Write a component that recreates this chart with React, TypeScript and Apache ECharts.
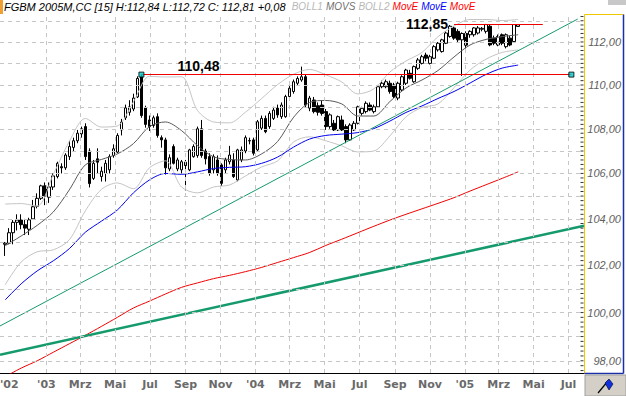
import React, { useEffect, useRef } from "react";
import * as echarts from "echarts";

// ---------------- data ----------------
const FIRST_WEEK = "2002-10-21"; // weekly candles, one per week
const OPEN = [
  102.9, 102.95, 103.4, 103.85, 103.95, 103.75, 103.55, 104.0, 104.55, 104.9,
  105.45, 104.95, 105.4, 105.86, 106.3, 106.25, 106.75, 107.16, 107.46, 107.77,
  108.1, 107.0, 105.78, 106.65, 105.86, 106.0, 106.16, 106.8, 106.95, 107.95,
  108.5, 108.75, 108.9, 109.45, 110.4, 108.95, 108.4, 108.15, 108.55, 107.6,
  107.5, 106.2, 107.2, 106.2, 106.16, 106.5, 106.16, 106.75, 106.8, 108.0,
  107.0, 106.75, 106.16, 106.6, 106.38, 106.16, 106.52, 106.6, 105.71, 106.6,
  107.0, 107.45, 107.5, 107.05, 108.03, 108.47, 108.1, 108.47, 108.94, 108.55,
  108.55, 109.47, 109.7, 110.08, 110.23, 110.38, 108.94, 109.31, 109.05, 109.08,
  108.78, 108.1, 108.25, 107.95, 108.4, 108.1, 107.5, 107.95, 108.25, 108.7,
  108.78, 109.08, 108.78, 109.0, 109.92, 109.92, 110.08, 110.0, 109.4, 109.77,
  110.08, 110.54, 110.15, 110.77, 111.0, 111.39, 111.0, 111.24, 111.63, 111.55,
  111.94, 112.26, 112.66, 112.5, 112.1, 112.4, 112.34, 112.34, 112.42, 112.6,
  112.5, 112.74, 112.18, 111.86, 112.34, 111.78, 112.18, 112.02, 112.73,
];
const HIGH = [
  103.0, 103.6, 103.95, 104.2, 104.2, 104.0, 104.05, 104.83, 105.12, 105.5,
  105.6, 105.6, 106.0, 106.52, 106.45, 106.9, 107.46, 107.6, 107.95, 108.1,
  108.25, 107.12, 106.6, 107.12, 106.3, 106.6, 106.85, 107.3, 107.8, 108.45,
  109.1, 109.3, 109.6, 110.4, 110.48, 109.05, 108.6, 108.6, 108.7, 107.7,
  107.6, 106.85, 107.3, 106.7, 106.6, 106.6, 107.1, 107.3, 108.1, 108.4,
  107.1, 106.9, 106.85, 106.8, 106.45, 106.7, 107.23, 106.9, 107.1, 107.2,
  107.7, 107.6, 107.6, 108.4, 108.6, 108.6, 108.8, 109.0, 109.1, 109.2,
  109.55, 109.95, 110.25, 110.4, 110.85, 110.5, 109.5, 109.45, 109.2, 109.3,
  108.9, 108.7, 108.4, 108.6, 108.6, 108.2, 108.25, 108.35, 109.05, 109.0,
  109.25, 109.2, 109.1, 110.0, 110.2, 110.25, 110.2, 110.1, 110.15, 110.45,
  110.75, 110.7, 110.9, 111.25, 111.4, 111.5, 111.4, 111.85, 112.0, 112.15,
  112.5, 112.8, 112.75, 112.6, 112.45, 112.5, 112.55, 112.7, 112.75, 112.7,
  112.85, 112.8, 112.3, 112.35, 112.4, 112.4, 112.3, 112.8, 112.84,
];
const LOW = [
  102.4, 102.9, 102.9, 103.5, 103.55, 103.3, 103.3, 103.96, 104.46, 104.83,
  104.6, 104.7, 105.27, 105.78, 106.0, 106.16, 106.6, 107.0, 107.35, 107.6,
  106.6, 105.38, 105.71, 106.0, 105.64, 105.64, 106.0, 106.7, 106.9, 107.7,
  108.4, 108.6, 108.8, 109.4, 108.5, 108.05, 107.9, 108.05, 107.6, 107.15,
  105.95, 106.1, 106.4, 106.1, 106.0, 105.25, 106.1, 106.7, 106.7, 106.7,
  106.4, 105.9, 106.0, 105.9, 105.45, 106.0, 106.4, 105.8, 105.65, 106.5,
  106.9, 107.3, 106.8, 107.0, 107.95, 107.8, 108.0, 108.4, 108.5, 108.45,
  108.5, 109.4, 109.6, 110.0, 110.15, 108.95, 108.8, 108.7, 108.6, 108.6,
  107.95, 108.0, 107.9, 107.9, 107.9, 107.35, 107.45, 107.9, 108.2, 108.6,
  108.7, 108.8, 108.7, 108.95, 109.85, 109.85, 109.6, 109.4, 109.3, 109.7,
  110.0, 110.25, 110.1, 110.7, 110.95, 111.1, 110.95, 111.2, 111.55, 111.5,
  111.9, 112.2, 112.1, 112.0, 110.42, 111.7, 112.2, 112.25, 112.35, 112.5,
  112.4, 111.8, 111.85, 111.8, 111.85, 111.7, 111.8, 111.95, 112.72,
];
const CLOSE = [
  102.95, 103.4, 103.85, 103.95, 103.75, 103.6, 103.96, 104.53, 104.9, 105.45,
  105.0, 105.4, 105.89, 106.45, 106.25, 106.82, 107.2, 107.46, 107.8, 108.0,
  106.75, 105.55, 106.45, 106.5, 106.1, 106.45, 106.75, 107.1, 107.7, 108.3,
  108.95, 109.0, 109.4, 110.3, 108.6, 108.2, 108.1, 108.5, 107.7, 107.5,
  106.25, 106.7, 106.45, 106.6, 106.52, 106.35, 107.05, 107.2, 108.0, 106.8,
  106.65, 106.0, 106.75, 106.0, 105.56, 106.6, 106.82, 105.86, 107.05, 107.05,
  107.6, 107.47, 106.9, 108.32, 108.47, 107.87, 108.7, 108.85, 108.63, 109.08,
  109.47, 109.85, 110.15, 110.3, 110.38, 109.08, 109.4, 108.78, 108.75, 108.7,
  108.1, 108.63, 107.95, 108.55, 107.95, 107.5, 108.17, 108.25, 109.0, 108.93,
  109.16, 108.85, 109.0, 109.92, 110.08, 110.15, 109.7, 109.47, 110.08, 110.38,
  110.69, 110.31, 110.85, 111.16, 111.31, 111.24, 111.31, 111.78, 111.94, 112.1,
  112.42, 112.74, 112.18, 112.1, 112.4, 111.85, 112.5, 112.66, 112.66, 112.64,
  112.82, 111.86, 111.94, 112.26, 111.94, 112.34, 111.86, 112.82, 112.81,
];

// indicator lines, one value every 4 weeks (starting with the first candle)
const MA_STEP_WEEKS = 4;
const BOLL_UPPER = [
  104.65, 104.67, 104.56, 105.95, 107.43, 108.47, 108.08, 108.13, 109.22, 110.4,
  110.37, 110.38, 108.83, 108.31, 108.27, 108.76, 109.38, 110.02, 110.5, 110.72,
  110.47, 110.14, 109.59, 109.82, 110.6, 111.11, 111.51, 112.25, 112.75, 113.06,
  113.06, 113.01, 113.06,
];
const BOLL_MID = [
  102.84, 103.26, 103.72, 104.3, 105.27, 106.38, 106.62, 106.87, 107.33, 108.1,
  108.31, 107.92, 107.24, 106.74, 106.62, 106.6, 106.87, 107.43, 108.53, 109.2,
  109.29, 109.13, 108.58, 108.58, 109.24, 109.86, 110.23, 110.67, 111.3, 111.86,
  112.12, 112.25, 112.34,
];
const BOLL_LOWER = [
  101.17, 102.14, 102.58, 102.66, 103.09, 104.35, 105.29, 105.58, 105.32, 106.25,
  106.56, 105.4, 105.14, 105.4, 105.49, 105.89, 106.29, 106.56, 107.41, 107.64,
  107.46, 107.23, 106.96, 107.0, 107.68, 108.54, 108.97, 109.13, 109.88, 110.69,
  111.2, 111.51, 111.63,
];
const MA_BLUE = [
  100.53, 101.21, 101.76, 102.19, 102.71, 103.42, 103.9, 104.39, 105.14, 105.71,
  106.0, 105.96, 106.07, 106.22, 106.27, 106.3, 106.45, 106.73, 107.18, 107.54,
  107.7, 107.76, 107.83, 108.01, 108.35, 108.74, 109.04, 109.38, 109.7, 110.09,
  110.49, 110.78, 110.92,
];
const MA_RED = [
  97.35, 97.7, 98.0, 98.35, 98.7, 99.05, 99.42, 99.8, 100.19, 100.48,
  100.78, 101.06, 101.25, 101.43, 101.57, 101.73, 101.91, 102.12, 102.33, 102.55,
  102.85, 103.12, 103.4, 103.68, 103.95, 104.2, 104.44, 104.68, 104.93, 105.22,
  105.5, 105.78, 106.07,
];

// trend lines [date, price]
const TREND_THIN: [string, number][] = [["2002-10-12", 99.44], ["2005-07-17", 113.08]];
const TREND_THICK: [string, number][] = [["2002-10-12", 98.25], ["2005-07-28", 103.7]];

// horizontal levels
const RES1 = 110.48;
const RES1_FROM = "2003-06-16";
const RES1_TO = "2005-07-06";
const RES2 = 112.85;
const RES2_FROM = "2004-12-13";
const RES2_TO = "2005-05-17";

// header values
const LAST_HIGH = 112.84;
const LAST_LOW = 112.72;
const LAST_CLOSE = 112.81;
const LAST_CHANGE = 0.08;
const LEGEND_WORDS = ["BOLL1", "MOVS", "BOLL2", "MovE", "MovE", "MovE"];
const LEGEND_STYLES = ["g", "d", "g", "r", "b", "r"];

// axes
const PRICE_GRID = [98, 99, 100, 101, 102, 103, 104, 105, 106, 107, 108, 109, 110, 111, 112, 113];
const PRICE_LABELS = [98, 100, 102, 104, 106, 108, 110, 112];
const MONTH_TICKS = [
  "2003-01-01", "2003-03-01", "2003-05-01", "2003-07-01", "2003-09-01", "2003-11-01",
  "2004-01-01", "2004-03-01", "2004-05-01", "2004-07-01", "2004-09-01", "2004-11-01",
  "2005-01-01", "2005-03-01", "2005-05-01", "2005-07-01",
];
const MONTH_LABELS = ["'03", "Mrz", "Mai", "Jul", "Sep", "Nov", "'04", "Mrz", "Mai", "Jul", "Sep", "Nov", "'05", "Mrz", "Mai", "Jul"];
const FIRST_LABEL = "'02";

const X_MIN = "2002-10-12";
const X_MAX = "2005-07-28";
const Y_MIN = 97.5;
const Y_MAX = 113.32;

// ---------------- helpers ----------------
function addDays(iso: string, n: number): string {
  const [y, m, d] = iso.split("-").map(Number);
  const t = new Date(Date.UTC(y, m - 1, d + n));
  return t.toISOString().slice(0, 10);
}
const fmt = (v: number) => v.toFixed(2).replace(".", ",");

const CANDLE_DATES = OPEN.map((_, i) => addDays(FIRST_WEEK, 7 * i));
const MA_DATES = BOLL_MID.map((_, j) => CANDLE_DATES[j * MA_STEP_WEEKS]);
const MINOR_TICKS: number[] = [];
for (let t = 976; t <= 1132; t += 2) MINOR_TICKS.push(t / 10);

const GRID_L = 0;
const GRID_T = 14;
const GRID_W = 584;
const GRID_H = 359;

export default function App() {
  const ref = useRef<HTMLDivElement>(null);
  useEffect(() => {
    if (!ref.current) return;
    const chart = echarts.init(ref.current, undefined, { renderer: "svg" });

    const lineSeries = (vals: number[], color: string, width: number, z: number) => ({
      type: "line",
      data: MA_DATES.map((d, j) => [d, vals[j]]),
      showSymbol: false,
      smooth: 0.3,
      silent: true,
      lineStyle: { color, width },
      z,
    });

    const axisLabelFont = {
      color: "#6a6a6a",
      fontWeight: "bold",
      fontSize: 11,
      fontFamily: "DejaVu Sans",
    };
    const levelFont = {
      color: "#000",
      fontWeight: "bold",
      fontSize: 14,
      fontFamily: "Liberation Sans",
    };

    const header =
      `{k|FGBM 2005M,CC [15] H:${fmt(LAST_HIGH)} L:${fmt(LAST_LOW)} C: ${fmt(LAST_CLOSE)} +${fmt(LAST_CHANGE)}}  ` +
      LEGEND_WORDS.map((w, i) => `{${LEGEND_STYLES[i]}|${w}}`).join("{s| }");
    const hf = 'italic 11px "Liberation Sans"';
    const lf = 'italic 10px "Liberation Sans"';

    const option: any = {
      animation: false,
      backgroundColor: "#fff",
      grid: { left: GRID_L, top: GRID_T, width: GRID_W, height: GRID_H, containLabel: false },
      xAxis: {
        type: "time",
        min: X_MIN,
        max: X_MAX,
        axisLine: { show: true, lineStyle: { color: "#000", width: 1 } },
        axisTick: { show: false },
        axisLabel: { show: false },
        splitLine: { show: false },
      },
      yAxis: {
        type: "log",
        logBase: 10,
        min: Y_MIN,
        max: Y_MAX,
        position: "right",
        axisLine: { show: false },
        axisTick: { show: false },
        axisLabel: { show: false },
        splitLine: { show: false },
      },
      series: [
        {
          type: "line",
          data: [[CANDLE_DATES[0], CLOSE[0]]],
          showSymbol: false,
          silent: true,
          lineStyle: { opacity: 0 },
          z: 1,
          markLine: {
            silent: true,
            symbol: ["none", "none"],
            animation: false,
            lineStyle: { color: "#c6c6c6", type: [4, 4], width: 1 },
            data: [
              ...PRICE_GRID.map((v) => ({
                yAxis: v,
                label: PRICE_LABELS.includes(v)
                  ? {
                      show: true,
                      position: "end",
                      formatter: fmt(v),
                      align: "right",
                      distance: 37,
                      color: "#606060",
                      fontStyle: "italic",
                      fontSize: 11,
                      fontFamily: "Liberation Sans",
                    }
                  : { show: false },
              })),
              ...MONTH_TICKS.map((d, i) => ({
                xAxis: d,
                label: { show: true, position: "start", formatter: MONTH_LABELS[i], distance: 6, ...axisLabelFont },
              })),
            ],
          },
        },
        {
          type: "candlestick",
          data: CANDLE_DATES.map((d, i) => [d, OPEN[i], CLOSE[i], LOW[i], HIGH[i]]),
          barWidth: 3,
          silent: true,
          itemStyle: { color: "#fff", color0: "#000", borderColor: "#000", borderColor0: "#000", borderWidth: 1 },
          z: 2,
        },
        lineSeries(BOLL_UPPER, "#c4c4c4", 1, 3),
        lineSeries(BOLL_LOWER, "#c4c4c4", 1, 3),
        lineSeries(BOLL_MID, "#5a5a5a", 1, 3),
        lineSeries(MA_BLUE, "#0000ee", 1, 3),
        lineSeries(MA_RED, "#ee0000", 1, 3),
        {
          type: "line",
          data: TREND_THIN,
          showSymbol: false,
          silent: true,
          lineStyle: { color: "#159a6c", width: 1 },
          z: 3,
        },
        {
          type: "line",
          data: TREND_THICK,
          showSymbol: false,
          silent: true,
          lineStyle: { color: "#159a6c", width: 2.5 },
          z: 3,
        },
        {
          type: "line",
          data: [[CANDLE_DATES[0], CLOSE[0]]],
          showSymbol: false,
          silent: true,
          lineStyle: { opacity: 0 },
          z: 4,
          markLine: {
            silent: true,
            symbol: ["none", "none"],
            animation: false,
            lineStyle: { color: "#ee0000", type: "solid", width: 1 },
            data: [
              [
                {
                  coord: [RES1_FROM, RES1],
                  label: {
                    show: true,
                    position: "insideStartTop",
                    formatter: fmt(RES1),
                    distance: [36, 2],
                    ...levelFont,
                  },
                },
                { coord: [RES1_TO, RES1] },
              ],
              [
                {
                  coord: [RES2_FROM, RES2],
                  label: {
                    show: true,
                    position: "start",
                    formatter: fmt(RES2),
                    distance: 6,
                    ...levelFont,
                  },
                },
                { coord: [RES2_TO, RES2] },
              ],
              {
                yAxis: LAST_CLOSE,
                lineStyle: { opacity: 0 },
                label: {
                  show: true,
                  position: "end",
                  formatter: fmt(LAST_CLOSE),
                  align: "right",
                  distance: 37,
                  color: "#fff",
                  backgroundColor: "#000",
                  padding: [2, 2, 1, 3],
                  fontStyle: "italic",
                  fontSize: 11,
                  fontFamily: "Liberation Sans",
                },
              },
            ],
          },
        },
        {
          type: "scatter",
          data: [[RES1_FROM, RES1], [RES1_TO, RES1]],
          symbol: "rect",
          symbolSize: 5,
          silent: true,
          itemStyle: { color: "#00c8c8", borderColor: "#000", borderWidth: 1 },
          z: 5,
        },
        {
          type: "scatter",
          data: MINOR_TICKS.map((v) => [X_MAX, v]),
          symbol: "rect",
          symbolSize: [3, 1],
          symbolOffset: [-2, 0],
          clip: false,
          silent: true,
          itemStyle: { color: "#000" },
          z: 5,
        },
      ],
      graphic: [
        { type: "rect", shape: { x: 0, y: 0, width: 3, height: 14 }, style: { fill: "#f0a030" } },
        {
          type: "text",
          x: 4,
          y: 1,
          style: {
            text: header,
            font: hf,
            fill: "#000",
            rich: {
              k: { fill: "#000", font: hf },
              s: { fill: "#000", font: hf },
              g: { fill: "#b8b8b8", font: lf },
              d: { fill: "#707070", font: lf },
              r: { fill: "#ff0000", font: lf },
              b: { fill: "#0000ff", font: lf },
            },
          },
        },
        { type: "rect", shape: { x: 608, y: 0, width: 18, height: 5 }, style: { fill: "#c8c8c8" } },
        { type: "line", shape: { x1: 584.5, y1: 14.5, x2: 584.5, y2: 373 }, style: { stroke: "#f0c800", lineWidth: 1 } },
        { type: "line", shape: { x1: 584.5, y1: 14.5, x2: 623.5, y2: 14.5 }, style: { stroke: "#f0c800", lineWidth: 1 } },
        { type: "line", shape: { x1: 623.5, y1: 14.5, x2: 623.5, y2: 373.5 }, style: { stroke: "#1a2fa8", lineWidth: 1.5 } },
        { type: "line", shape: { x1: 584.5, y1: 373.5, x2: 623.5, y2: 373.5 }, style: { stroke: "#1a2fa8", lineWidth: 1.5 } },
        {
          type: "text",
          x: 0,
          y: 379,
          style: { text: FIRST_LABEL, fill: "#6a6a6a", font: 'bold 11px "DejaVu Sans"' },
        },
        { type: "rect", shape: { x: 585, y: 375, width: 41, height: 21 }, style: { fill: "#d4d0c8", stroke: "#a0a0a0", lineWidth: 1 } },
        { type: "line", shape: { x1: 598, y1: 393, x2: 608, y2: 381 }, style: { stroke: "#000", lineWidth: 1.2 } },
        { type: "polygon", shape: { points: [[605, 383], [609, 379], [613, 384], [609, 390]] }, style: { fill: "#1030e0", stroke: "#000020", lineWidth: 0.6 } },
      ],
    };

    chart.setOption(option);
    return () => chart.dispose();
  }, []);

  return <div ref={ref} style={{ position: "fixed", left: 0, top: 0, width: 626, height: 396 }} />;
}
